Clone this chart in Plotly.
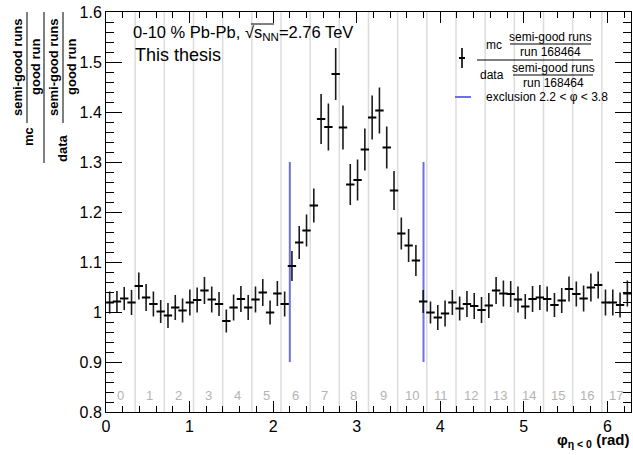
import math
import plotly.graph_objects as go

# ---------------- data ----------------
n_bins = 72
ratio = [
    1.019, 1.021, 1.027, 1.019, 1.052, 1.029, 1.016, 1.001, 0.993, 1.009,
    1.003, 1.019, 1.024, 1.043, 1.025, 1.016, 0.982, 1.009, 1.026, 1.009,
    1.025, 1.039, 0.999, 1.037, 1.016,
    1.092, 1.139, 1.163, 1.213, 1.386, 1.370, 1.476, 1.369, 1.255, 1.264,
    1.325, 1.389, 1.403, 1.329, 1.243, 1.157, 1.133, 1.103,
    1.021, 0.999, 0.989, 0.997, 1.019, 1.007, 1.016, 1.012, 1.004, 1.013,
    1.043, 1.037, 1.036, 1.025, 1.011, 1.026, 1.029, 1.026, 1.014, 1.023,
    1.046, 1.036, 1.027, 1.049, 1.054, 1.019, 1.019, 1.014, 1.037,
]
ratio_err = [
    0.022, 0.021, 0.023, 0.025, 0.027, 0.027, 0.025, 0.023, 0.025, 0.025,
    0.024, 0.026, 0.025, 0.027, 0.026, 0.024, 0.023, 0.026, 0.026, 0.025,
    0.026, 0.027, 0.024, 0.025, 0.025,
    0.030, 0.033, 0.032, 0.034, 0.050, 0.047, 0.052, 0.044, 0.041, 0.041,
    0.042, 0.044, 0.046, 0.042, 0.039, 0.032, 0.033, 0.031,
    0.023, 0.022, 0.025, 0.026, 0.025, 0.024, 0.026, 0.026, 0.026, 0.025,
    0.027, 0.026, 0.026, 0.026, 0.025, 0.026, 0.025, 0.025, 0.024, 0.025,
    0.025, 0.025, 0.026, 0.028, 0.027, 0.026, 0.026, 0.025, 0.026,
]
n_sectors = 18
sector_labels = [str(k) for k in range(n_sectors)]
excl_phi = [2.2, 3.8]
excl_y = [0.9, 1.3]
sector_label_y = 0.834

two_pi = 2 * math.pi
bin_w = two_pi / n_bins
phi = [(i + 0.5) * bin_w for i in range(n_bins)]
sec_w = two_pi / n_sectors

# ---------------- geometry helpers ----------------
W, H = 633, 455
L, R, T, B = 106, 2, 12, 43
PW, PH = W - L - R, H - T - B


def px(xp):
    return (xp - L) / PW


def py(yp):
    return (H - B - yp) / PH


FONT = "Liberation Sans, Arial, Helvetica, sans-serif"
BLUE = "#6f6fe4"

fig = go.Figure()

# sector boundaries (light grey)
shapes = []
for k in range(1, n_sectors):
    shapes.append(dict(type="line", xref="x", yref="paper", x0=k * sec_w, x1=k * sec_w,
                       y0=0, y1=1, line=dict(color="#dcdcdc", width=1.5), layer="below"))

# exclusion lines
ex_x, ex_y = [], []
for v in excl_phi:
    ex_x += [v, v, None]
    ex_y += [excl_y[0], excl_y[1], None]
fig.add_trace(go.Scatter(x=ex_x, y=ex_y, mode="lines",
                         line=dict(color=BLUE, width=2), hoverinfo="skip"))

# data points
fig.add_trace(go.Scatter(
    x=phi, y=ratio, mode="markers",
    marker=dict(symbol="line-ew", size=6, color="black",
                line=dict(color="black", width=2)),
    error_y=dict(type="data", array=ratio_err, visible=True,
                 color="#1a1a1a", thickness=1.6, width=0),
))

annotations = []
# sector labels
for k, lab in enumerate(sector_labels):
    annotations.append(dict(x=(k + 0.5) * sec_w, y=sector_label_y, xref="x", yref="y",
                            text=lab, showarrow=False,
                            font=dict(family=FONT, size=13, color="#b3b3b3")))

# top-left text
annotations.append(dict(x=px(131), y=py(33), xref="paper", yref="paper", xanchor="left",
                        yanchor="middle", showarrow=False,
                        text="0-10 % Pb-Pb, √s<sub>NN</sub>=2.76 TeV",
                        font=dict(family=FONT, size=16.5, color="black")))
shapes.append(dict(type="line", xref="paper", yref="paper", x0=px(251), x1=px(274),
                   y0=py(24), y1=py(24), line=dict(color="black", width=1)))
annotations.append(dict(x=px(133), y=py(55), xref="paper", yref="paper", xanchor="left",
                        yanchor="middle", showarrow=False, text="This thesis",
                        font=dict(family=FONT, size=18, color="black")))

# y-axis title (nested fraction, rotated)
tf = dict(family=FONT, size=13, color="black")


def rot_text(x, y, txt):
    annotations.append(dict(x=px(x), y=py(y), xref="paper", yref="paper", xanchor="center",
                            yanchor="middle", textangle=-90, showarrow=False,
                            text="<b>" + txt + "</b>", font=tf))


def vbar(x, y0, y1):
    shapes.append(dict(type="line", xref="paper", yref="paper", x0=px(x), x1=px(x),
                       y0=py(y0), y1=py(y1), line=dict(color="black", width=1)))


rot_text(18, 67, "semi-good runs")
vbar(27, 12, 123)
rot_text(36, 67, "good run")
rot_text(28, 137, "mc")
vbar(44, 12, 163)
rot_text(54, 67, "semi-good runs")
vbar(63, 12, 123)
rot_text(72, 67, "good run")
rot_text(62, 148, "data")

# x-axis title
annotations.append(dict(x=1, y=py(440), xref="paper", yref="paper", xanchor="right",
                        yanchor="middle", showarrow=False,
                        text="<b>φ<sub>η < 0</sub> (rad)</b>",
                        font=dict(family=FONT, size=15, color="black")))

# legend (manual)
lf = dict(family=FONT, size=12, color="black")


def ltext(x, y, txt, anchor="center"):
    annotations.append(dict(x=px(x), y=py(y), xref="paper", yref="paper", xanchor=anchor,
                            yanchor="middle", showarrow=False, text=txt, font=lf))


def hbar(x0, x1, y):
    shapes.append(dict(type="line", xref="paper", yref="paper", x0=px(x0), x1=px(x1),
                       y0=py(y), y1=py(y), line=dict(color="black", width=1)))


# marker sample
shapes.append(dict(type="line", xref="paper", yref="paper", x0=px(462), x1=px(462),
                   y0=py(48), y1=py(68), line=dict(color="black", width=1.6)))
shapes.append(dict(type="line", xref="paper", yref="paper", x0=px(459), x1=px(465),
                   y0=py(58), y1=py(58), line=dict(color="black", width=2)))
ltext(494, 45, "mc")
ltext(550, 37, "semi-good runs")
hbar(510, 591, 44)
ltext(550, 52, "run 168464")
hbar(477, 593, 60)
ltext(492, 75, "data")
ltext(553, 68, "semi-good runs")
hbar(513, 593, 75)
ltext(553, 83, "run 168464")
shapes.append(dict(type="line", xref="paper", yref="paper", x0=px(455), x1=px(471),
                   y0=py(97), y1=py(97), line=dict(color=BLUE, width=2)))
ltext(484, 97, "exclusion 2.2 < φ < 3.8", anchor="left")

axis_common = dict(showline=True, linecolor="black", linewidth=1, mirror="ticks",
                   ticks="inside", tickcolor="black", tickwidth=1, showgrid=False,
                   zeroline=False, tickfont=dict(family=FONT, size=16, color="black"))

fig.update_layout(
    width=W, height=H, margin=dict(l=L, r=R, t=T, b=B),
    plot_bgcolor="white", paper_bgcolor="white", showlegend=False,
    hovermode=False,
    xaxis=dict(range=[0, two_pi], tick0=0, dtick=1, ticklen=11,
               minor=dict(dtick=0.2, ticks="inside", ticklen=6, tickcolor="black",
                          showgrid=False), **axis_common),
    yaxis=dict(range=[0.8, 1.6], tick0=0.8, dtick=0.1, ticklen=16,
               minor=dict(dtick=0.02, ticks="inside", ticklen=8, tickcolor="black",
                          showgrid=False), **axis_common),
    shapes=shapes, annotations=annotations,
)

fig.write_html("out.html", config={"displayModeBar": False},
               post_script="document.body.style.margin='0';document.body.style.padding='0';")
